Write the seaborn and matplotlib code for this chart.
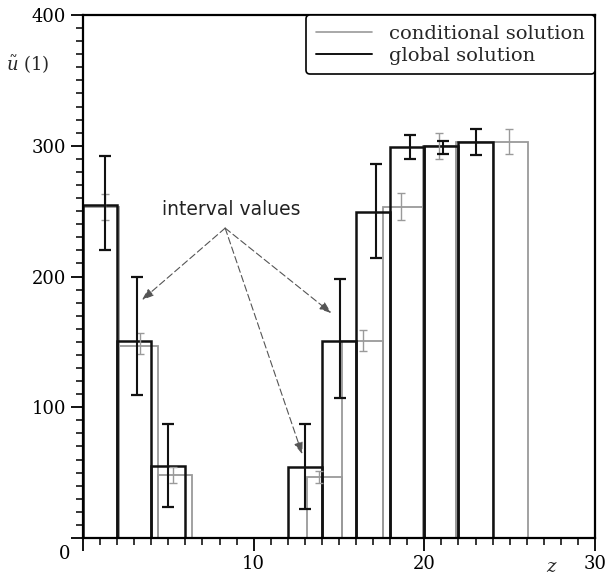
import matplotlib
matplotlib.use("Agg")
import matplotlib.pyplot as plt
import matplotlib.transforms as mtransforms
from matplotlib.lines import Line2D
from matplotlib.ticker import MultipleLocator
import numpy as np
import seaborn as sns

# ─── Data ─────────────────────────────────────────────────────────────────────

# global solution: bin edges and bin heights (0 = empty gap 6..12)
global_edges = [0, 2, 4, 6, 12, 14, 16, 18, 20, 22, 24]
global_vals = [255, 151, 55, 0, 54, 151, 249, 299, 300, 303]
# global solution: interval values (x, low, high)
global_err_x = [1.3, 3.15, 4.97, 12.98, 15.03, 17.15, 19.15, 21.1, 23.05]
global_err_lo = [220, 109, 24, 22, 107, 214, 290, 294, 293]
global_err_hi = [292, 200, 87, 87, 198, 286, 308, 304, 313]

# conditional solution
cond_edges = [0, 2.1, 4.4, 6.4, 13.1, 15.2, 17.55, 19.9, 21.85, 24, 26.1]
cond_vals = [253, 147, 48, 0, 47, 151, 253, 300, 303, 303]
cond_err_x = [1.3, 3.35, 5.25, 13.85, 16.4, 18.65, 20.85, 24.95]
cond_err_lo = [243, 141, 42, 42, 143, 243, 290, 294]
cond_err_hi = [263, 157, 54, 51, 159, 264, 310, 313]

# annotation "interval values": text position, apex and arrow tips
note_xy = (8.7, 251)
apex_xy = (8.33, 237)
arrow_tips = [(3.45, 182), (14.55, 172), (12.85, 64)]

GLOBAL_C = "#111111"
COND_C = "#9a9a9a"

# ─── Figure ───────────────────────────────────────────────────────────────────

sns.set_theme(style="ticks")
plt.rcParams["font.family"] = ["DejaVu Serif"]
plt.rcParams["mathtext.fontset"] = "dejavuserif"

fig = plt.figure(figsize=(6.07, 5.77), dpi=100)
ax = fig.add_axes([83 / 607, 39 / 577, 512 / 607, 523 / 577])


def step_bars(edges, vals, color, lw):
    edges = np.asarray(edges, dtype=float)
    widths = np.diff(edges)
    keep = np.asarray(vals) > 0
    ax.bar(edges[:-1][keep], np.asarray(vals)[keep], width=widths[keep],
           align="edge", fill=False, edgecolor=color, linewidth=lw)


step_bars(cond_edges, cond_vals, COND_C, 1.3)
step_bars(global_edges, global_vals, GLOBAL_C, 1.8)

ax.errorbar(cond_err_x, [(l + h) / 2 for l, h in zip(cond_err_lo, cond_err_hi)],
            yerr=[[(h - l) / 2 for l, h in zip(cond_err_lo, cond_err_hi)]] * 2,
            fmt="none", ecolor=COND_C, elinewidth=1.0, capsize=3, capthick=1.0)
ax.errorbar(global_err_x, [(l + h) / 2 for l, h in zip(global_err_lo, global_err_hi)],
            yerr=[[(h - l) / 2 for l, h in zip(global_err_lo, global_err_hi)]] * 2,
            fmt="none", ecolor=GLOBAL_C, elinewidth=1.5, capsize=4, capthick=1.6)

# annotation
ax.text(*note_xy, "interval values", ha="center", va="center", fontsize=13.5,
        family=["DejaVu Sans"], color="#222222")
for tip in arrow_tips:
    ax.annotate("", xy=tip, xytext=apex_xy,
                arrowprops=dict(arrowstyle="-|>,head_length=0.6,head_width=0.22",
                                color="#555555", lw=0.8, ls=(0, (6, 3)),
                                shrinkA=0, shrinkB=0))

# axes
ax.set_xlim(0, 30)
ax.set_ylim(0, 400)
ax.set_xlabel("")
ax.set_ylabel("")
ax.xaxis.set_minor_locator(MultipleLocator(1))
ax.yaxis.set_minor_locator(MultipleLocator(10))
ax.set_yticks([0, 100, 200, 300, 400])
ax.set_yticklabels(["", "100", "200", "300", "400"])
ax.set_xticks([0, 10, 20, 30])
ax.set_xticklabels(["0", "10", "20", "30"])
ax.tick_params(which="major", direction="out", length=9, width=1.3,
               labelsize=13, colors="black", pad=3)
ax.tick_params(which="minor", direction="out", length=5, width=1.1,
               colors="black")
# the origin label sits down-left of the corner, as in the reference
shift = mtransforms.ScaledTranslation(-18 / 100, 10 / 100, fig.dpi_scale_trans)
xl = ax.get_xticklabels()
xl[0].set_transform(xl[0].get_transform() + shift)

for side in ["left", "right", "top", "bottom"]:
    ax.spines[side].set_visible(True)
    ax.spines[side].set_linewidth(1.6)
    ax.spines[side].set_color("black")

ax.text(-0.108, 0.905, r"$\tilde{u}$ (1)", transform=ax.transAxes,
        ha="center", va="center", fontsize=13)
ax.text(27.5, -0.055, r"$z$", transform=ax.get_xaxis_transform(),
        ha="center", va="center", fontsize=13)

handles = [Line2D([], [], color=COND_C, lw=1.2),
           Line2D([], [], color=GLOBAL_C, lw=1.4)]
leg = ax.legend(handles, ["conditional solution", "global solution"],
                loc="upper right", borderaxespad=0, fontsize=14,
                handlelength=2.9, handletextpad=0.9, fancybox=True,
                framealpha=1, edgecolor="black", borderpad=0.5,
                labelspacing=0.2)
leg.get_frame().set_linewidth(1.2)

fig.savefig("out.png", dpi=100)
